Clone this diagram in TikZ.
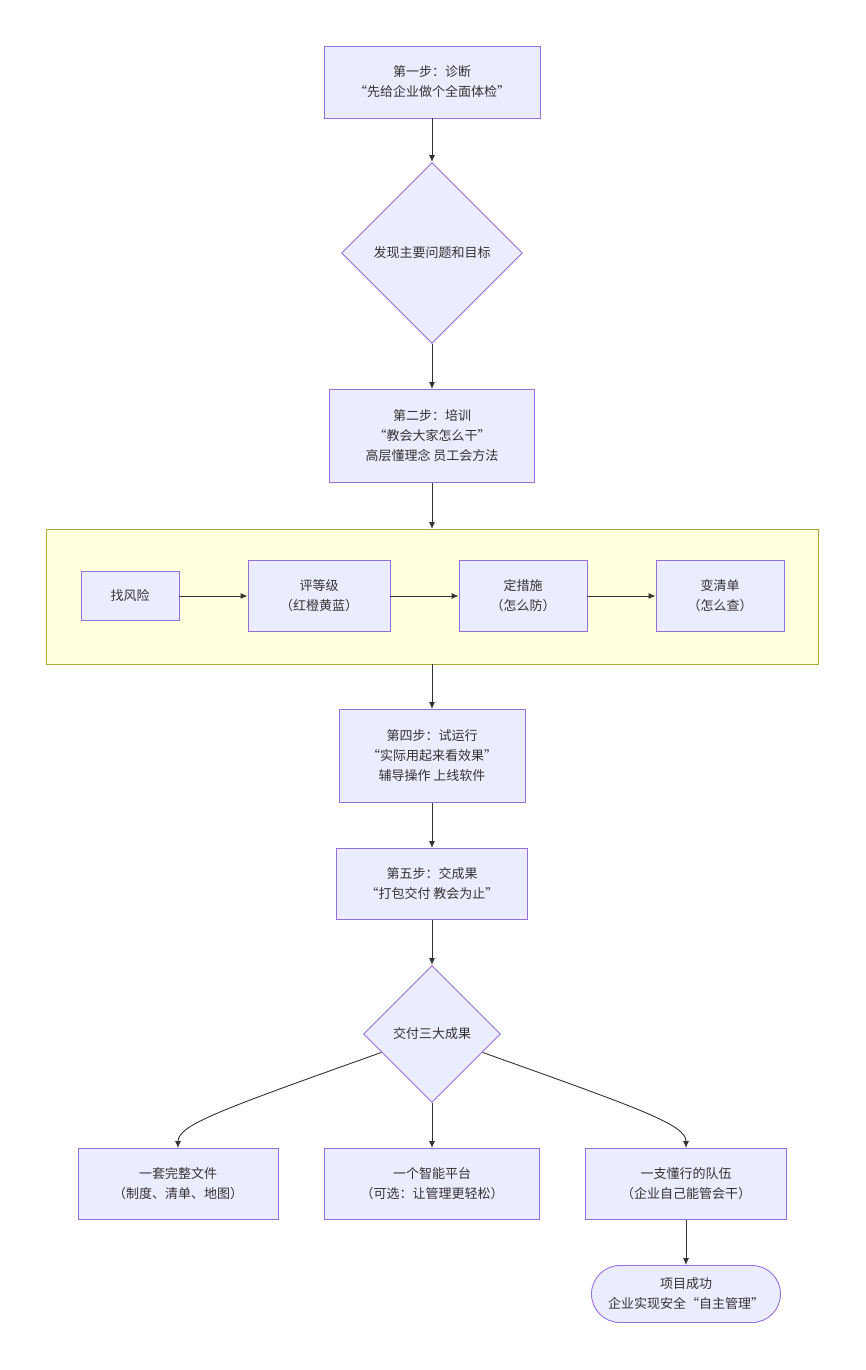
\documentclass[tikz,border=0pt]{standalone}
\usepackage{fontspec}
\setmainfont{Noto Sans CJK SC}
\usetikzlibrary{positioning,shapes.geometric,shapes.misc,arrows.meta}
\definecolor{nodefill}{HTML}{ECECFF}
\definecolor{nodeline}{HTML}{9370DB}
\definecolor{txt}{HTML}{333333}
\definecolor{clusterfill}{HTML}{FFFFDE}
\definecolor{clusterline}{HTML}{AAAA33}
\begin{document}
\begin{tikzpicture}[x=1pt, y=-1pt, >={Latex[length=7pt,width=6pt]},
  every node/.style={font=\fontsize{13}{20}\selectfont, text=txt, align=center},
  box/.style={draw=nodeline, fill=nodefill, line width=0.9pt, inner sep=0pt},
  choice/.style={box, diamond, minimum width=#1, minimum height=#1},
  link/.style={->, draw=txt, line width=0.9pt}]

\useasboundingbox (0,0) rectangle (865,1370);

% cluster
\draw [fill=clusterfill, draw=clusterline, line width=0.9pt] (46,529) rectangle (818,664);

\node [box, minimum width=216, minimum height=72] (diagnose) at (432,82) {第一步：诊断\\“先给企业做个全面体检”};
\node [choice=181] (findgoal) at (432,253) {发现主要问题和目标};
\node [box, minimum width=205, minimum height=93] (train) at (432,436) {第二步：培训\\“教会大家怎么干”\\高层懂理念 员工会方法};

\node [box, minimum width=98, minimum height=49] (risk) at (130,596) {找风险};
\node [box, minimum width=142, minimum height=71] (grade) at (319,596) {评等级\\（红橙黄蓝）};
\node [box, minimum width=128, minimum height=71] (measure) at (523,596) {定措施\\（怎么防）};
\node [box, minimum width=128, minimum height=71] (checklist) at (720,596) {变清单\\（怎么查）};

\node [box, minimum width=186, minimum height=93] (trial) at (432,756) {第四步：试运行\\“实际用起来看效果”\\辅导操作 上线软件};
\node [box, minimum width=191, minimum height=71] (deliver) at (432,884) {第五步：交成果\\“打包交付 教会为止”};
\node [choice=137] (results) at (432,1034) {交付三大成果};

\node [box, minimum width=200, minimum height=71] (docs) at (178,1184) {一套完整文件\\（制度、清单、地图）};
\node [box, minimum width=215, minimum height=71] (platform) at (432,1184) {一个智能平台\\（可选：让管理更轻松）};
\node [box, minimum width=201, minimum height=71] (team) at (686,1184) {一支懂行的队伍\\（企业自己能管会干）};
\node [box, rounded rectangle, minimum width=189, minimum height=57] (success) at (686,1294) {项目成功\\企业实现安全“自主管理”};

% arrows
\coordinate (clustertop) at (432,529);
\coordinate (clusterbot) at (432,664);
\draw [link] (diagnose) -- (findgoal);
\draw [link] (findgoal) -- (train);
\draw [link] (train) -- (clustertop);
\draw [link] (risk) -- (grade);
\draw [link] (grade) -- (measure);
\draw [link] (measure) -- (checklist);
\draw [link] (clusterbot) -- (trial);
\draw [link] (trial) -- (deliver);
\draw [link] (deliver) -- (results);
\draw [link] (results.200) .. controls (220,1110) and (178,1125) .. (docs.north);
\draw [link] (results) -- (platform);
\draw [link] (results.-20) .. controls (644,1110) and (686,1125) .. (team.north);
\draw [link] (team) -- (success);
\end{tikzpicture}
\end{document}
